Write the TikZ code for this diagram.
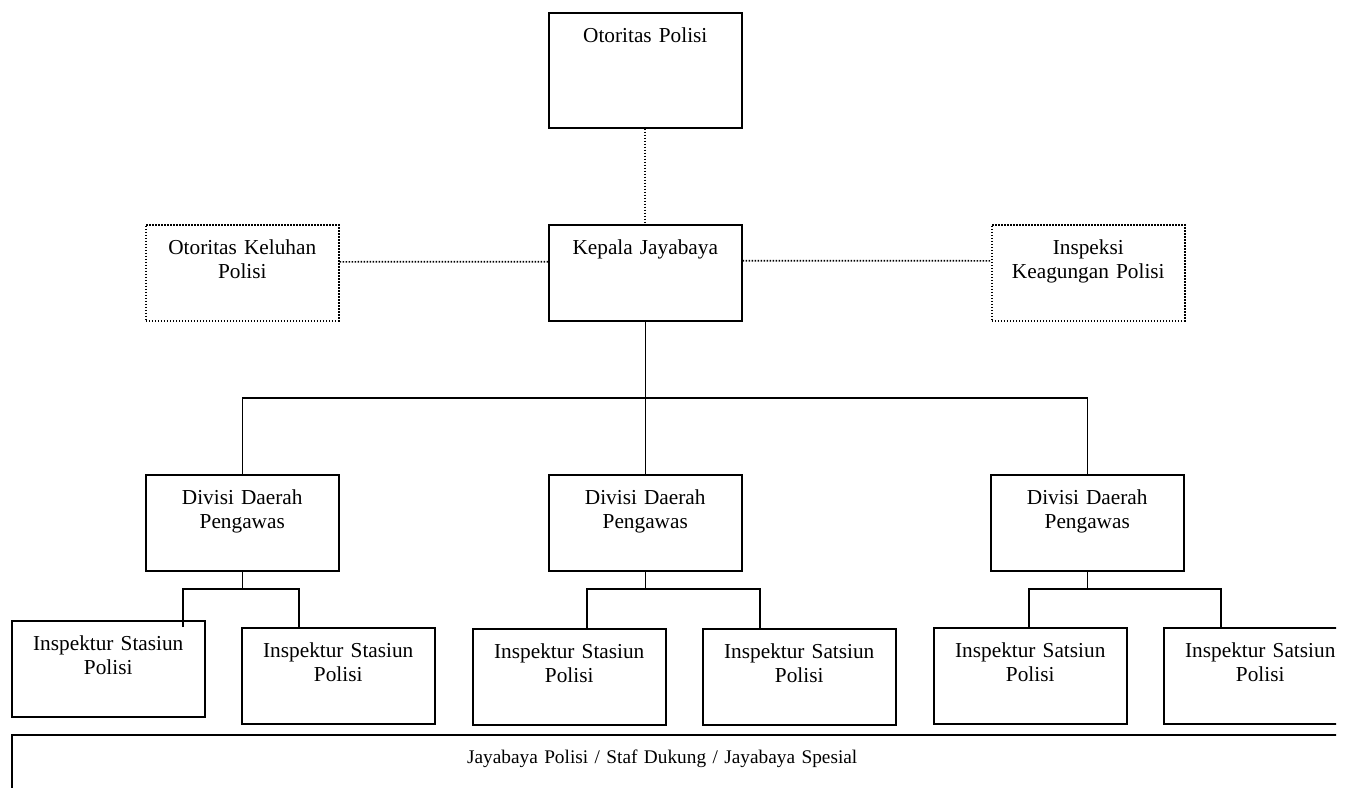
\documentclass[tikz,border=0pt]{standalone}
\usepackage{fontspec}
\setmainfont{Liberation Serif}
\begin{document}
\begin{tikzpicture}[x=1pt, y=-1pt]
	\tikzstyle{office} = [draw, line width=1.5pt, anchor=north west, minimum width=193pt, text width=185pt, align=center, inner xsep=4pt, inner ysep=0pt, text height=30pt, text depth=66pt, font=\fontsize{21.3}{24}\selectfont]
	\tikzstyle{advisory} = [office, line width=1.6pt, dash pattern=on 1.6pt off 1.4pt]
	\tikzstyle{link} = [line width=1.5pt]
	\tikzstyle{dotlink} = [line width=1.6pt, dash pattern=on 1.6pt off 1.4pt]
	\useasboundingbox (0,0) rectangle (1348,787);
	\clip (0,0) rectangle (1336,787);
	
	\node[office, text depth=85pt](otoritas)at (548,12){Otoritas Polisi};
	\node[office](kepala)at (548,224){Kepala Jayabaya};
	\node[advisory](keluhan)at (145,224){Otoritas Keluhan\\Polisi};
	\node[advisory](inspeksi)at (991,224){Inspeksi\\Keagungan Polisi};
	
	\node[office](divisi-1)at (145,474){Divisi Daerah\\Pengawas};
	\node[office](divisi-2)at (548,474){Divisi Daerah\\Pengawas};
	\node[office](divisi-3)at (990,474){Divisi Daerah\\Pengawas};
	
	\node[office](insp-1-1)at (11,620){Inspektur Stasiun\\Polisi};
	\node[office](insp-1-2)at (241,627){Inspektur Stasiun\\Polisi};
	\node[office](insp-2-1)at (472,628){Inspektur Stasiun\\Polisi};
	\node[office](insp-2-2)at (702,628){Inspektur Satsiun\\Polisi};
	\node[office](insp-3-1)at (933,627){Inspektur Satsiun\\Polisi};
	\node[office](insp-3-2)at (1163,627){Inspektur Satsiun\\Polisi};
	
	\node[anchor=north west, inner sep=0pt, text width=1300pt, align=center, text height=28pt, text depth=60pt, font=\fontsize{19.3}{22}\selectfont](staf)at (12,735){Jayabaya Polisi / Staf Dukung / Jayabaya Spesial};
	\draw[link] (staf.south west) -- (staf.north west) -- ++(1400,0);
	
	\path[dotlink] (otoritas) edge (kepala)
	([yshift=11pt]keluhan.east) edge ([yshift=11pt]kepala.west)
	([yshift=12pt]kepala.east) edge ([yshift=12pt]inspeksi.west);
	
	\coordinate (bus) at (645,398);
	\draw[link] (kepala.south) -- (divisi-2.north);
	\draw[link] (divisi-1.north) |- (bus) -| (divisi-3.north);
	
	\coordinate (t-1-1) at (183,589);
	\coordinate (t-1-2) at (299,589);
	\coordinate (t-2-1) at (587,589);
	\coordinate (t-2-2) at (760,589);
	\coordinate (t-3-1) at (1029,589);
	\coordinate (t-3-2) at (1221,589);
	
	\draw[link] (divisi-1.south) -- (divisi-1.south |- t-1-1);
	\draw[link] (t-1-1 |- insp-1-2.north) -- (t-1-1) -- (t-1-2) -- (t-1-2 |- insp-1-2.north);
	\draw[link] (divisi-2.south) -- (divisi-2.south |- t-2-1);
	\draw[link] (t-2-1 |- insp-2-1.north) -- (t-2-1) -- (t-2-2) -- (t-2-2 |- insp-2-2.north);
	\draw[link] (divisi-3.south) -- (divisi-3.south |- t-3-1);
	\draw[link] (t-3-1 |- insp-3-1.north) -- (t-3-1) -- (t-3-2) -- (t-3-2 |- insp-3-2.north);
	
\end{tikzpicture}
\end{document}
